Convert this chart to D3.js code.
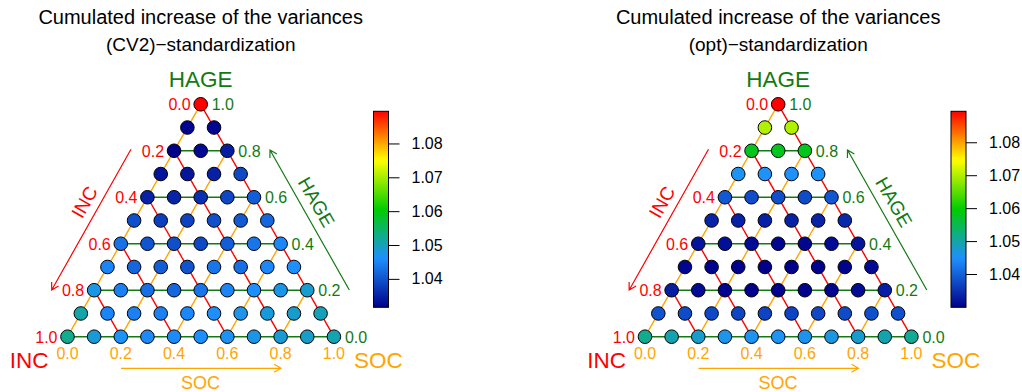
<!DOCTYPE html>
<html>
<head>
<meta charset="utf-8">
<script src="https://cdn.jsdelivr.net/npm/d3@7"></script>
<style>
  html, body { margin: 0; padding: 0; background: #fff; }
  svg { display: block; font-family: "Liberation Sans", Arial, Helvetica, sans-serif; }
</style>
</head>
<body>
<svg id="chart" width="1022" height="392"></svg>
<script>
// Ternary grid: rows run from HAGE = 1.0 (top) to HAGE = 0.0 (bottom);
// inside a row, SOC grows from 0 to (1 - HAGE) left to right, INC = 1 - SOC - HAGE.
const hageSteps = d3.range(10, -1, -1).map(d => d / 10);

// Cumulated increase of the variances, (CV2)-standardization
const valuesCV2 = [
  [1.0895],
  [1.0320, 1.0322],
  [1.0316, 1.0325, 1.0345],
  [1.0335, 1.0338, 1.0348, 1.0388],
  [1.0350, 1.0352, 1.0362, 1.0386, 1.0410],
  [1.0395, 1.0378, 1.0382, 1.0396, 1.0405, 1.0420],
  [1.0430, 1.0400, 1.0395, 1.0388, 1.0410, 1.0435, 1.0452],
  [1.0450, 1.0418, 1.0410, 1.0400, 1.0435, 1.0428, 1.0452, 1.0460],
  [1.0475, 1.0445, 1.0428, 1.0420, 1.0435, 1.0450, 1.0460, 1.0475, 1.0488],
  [1.0510, 1.0450, 1.0445, 1.0445, 1.0452, 1.0460, 1.0472, 1.0482, 1.0490, 1.0500],
  [1.0525, 1.0485, 1.0465, 1.0455, 1.0455, 1.0460, 1.0468, 1.0475, 1.0485, 1.0492, 1.0505]
];

// Cumulated increase of the variances, (opt)-standardization
const valuesOpt = [
  [1.0894],
  [1.0700, 1.0700],
  [1.0580, 1.0578, 1.0580],
  [1.0455, 1.0452, 1.0450, 1.0452],
  [1.0390, 1.0378, 1.0380, 1.0378, 1.0388],
  [1.0335, 1.0333, 1.0333, 1.0333, 1.0335, 1.0340],
  [1.0320, 1.0315, 1.0310, 1.0305, 1.0305, 1.0310, 1.0320],
  [1.0305, 1.0302, 1.0300, 1.0299, 1.0299, 1.0300, 1.0302, 1.0308],
  [1.0330, 1.0310, 1.0305, 1.0300, 1.0300, 1.0302, 1.0305, 1.0310, 1.0330],
  [1.0385, 1.0378, 1.0372, 1.0370, 1.0368, 1.0368, 1.0372, 1.0376, 1.0380, 1.0382],
  [1.0513, 1.0495, 1.0478, 1.0460, 1.0455, 1.0455, 1.0458, 1.0465, 1.0478, 1.0495, 1.0510]
];

const axisTicks = [0, 0.2, 0.4, 0.6, 0.8, 1.0];
const gridLevels = [0, 0.2, 0.4, 0.6, 0.8];
const colorTicks = [1.04, 1.05, 1.06, 1.07, 1.08];
const paletteColors = ["#00008B", "#1E90FF", "#00CD00", "#FFFF00", "#FF0000"];

const panels = [
  { title: ["Cumulated increase of the variances", "(CV2)\u2212standardization"], values: valuesCV2, dx: 0 },
  { title: ["Cumulated increase of the variances", "(opt)\u2212standardization"], values: valuesOpt, dx: 577.5 }
];

const RED = "#FF0000", ORANGE = "#FFA500", GREEN = "#137a13";
const svg = d3.select("#chart");
const defs = svg.append("defs");

panels.forEach((p, pi) => {
  const g = svg.append("g").attr("transform", `translate(${p.dx},0)`);

  // triangle frame: bottom-left (INC = 1), bottom-right (SOC = 1), apex (HAGE = 1)
  const x = d3.scaleLinear().domain([0, 1]).range([67.5, 333.9]);   // SOC + HAGE/2
  const y = d3.scaleLinear().domain([0, 1]).range([336.7, 104.3]);  // HAGE
  const px = (soc, hage) => x(soc + hage / 2);
  const py = hage => y(hage);

  // flatten rows into points
  const pts = [];
  p.values.forEach((row, i) => {
    const hage = hageSteps[i];
    row.forEach((v, j) => {
      const soc = j / 10;
      pts.push({ soc, hage, inc: 1 - soc - hage, v });
    });
  });

  const ext = d3.extent(pts, d => d.v);
  const color = d3.scaleLinear()
    .domain(paletteColors.map((c, k) => ext[0] + k * (ext[1] - ext[0]) / (paletteColors.length - 1)))
    .range(paletteColors)
    .interpolate(d3.interpolateRgb);

  // title
  g.append("text").attr("x", 200.7).attr("y", 24).attr("text-anchor", "middle")
    .attr("font-size", 20).attr("fill", "#000").text(p.title[0]);
  g.append("text").attr("x", 200.7).attr("y", 51).attr("text-anchor", "middle")
    .attr("font-size", 19).attr("fill", "#000").text(p.title[1]);

  // grid lines
  const grid = g.append("g").attr("stroke-width", 1.4).attr("fill", "none");
  gridLevels.forEach(c => {
    // SOC = c (orange), from HAGE = 0 up to INC = 0
    grid.append("line").attr("stroke", ORANGE)
      .attr("x1", px(c, 0)).attr("y1", py(0)).attr("x2", px(c, 1 - c)).attr("y2", py(1 - c));
    // INC = c (red), from HAGE = 0 up to SOC = 0
    grid.append("line").attr("stroke", RED)
      .attr("x1", px(1 - c, 0)).attr("y1", py(0)).attr("x2", px(0, 1 - c)).attr("y2", py(1 - c));
    // HAGE = c (green), horizontal
    grid.append("line").attr("stroke", GREEN)
      .attr("x1", px(0, c)).attr("y1", py(c)).attr("x2", px(1 - c, c)).attr("y2", py(c));
  });

  // points
  g.append("g").selectAll("circle").data(pts).join("circle")
    .attr("cx", d => px(d.soc, d.hage))
    .attr("cy", d => py(d.hage))
    .attr("r", 6.8)
    .attr("fill", d => color(d.v))
    .attr("stroke", "#000")
    .attr("stroke-width", 1);

  // tick labels
  const tl = g.append("g").attr("font-size", 16);
  axisTicks.forEach(t => {
    // INC on the left edge (SOC = 0, HAGE = 1 - INC)
    tl.append("text").attr("fill", RED).attr("text-anchor", "end")
      .attr("x", px(0, 1 - t) - 10).attr("y", py(1 - t) + 5.8).text(t.toFixed(1));
    // HAGE on the right edge (INC = 0)
    tl.append("text").attr("fill", GREEN).attr("text-anchor", "start")
      .attr("x", px(1 - t, t) + 11).attr("y", py(t) + 5.8).text(t.toFixed(1));
    // SOC along the bottom edge
    tl.append("text").attr("fill", ORANGE).attr("text-anchor", "middle")
      .attr("x", px(t, 0)).attr("y", py(0) + 22.5).text(t.toFixed(1));
  });

  // corner labels
  g.append("text").attr("x", px(0, 1)).attr("y", 87).attr("text-anchor", "middle")
    .attr("font-size", 22.5).attr("fill", GREEN).text("HAGE");
  g.append("text").attr("x", px(0, 0) - 19).attr("y", 368).attr("text-anchor", "end")
    .attr("font-size", 22.5).attr("fill", RED).text("INC");
  g.append("text").attr("x", px(1, 0) + 20).attr("y", 368).attr("text-anchor", "start")
    .attr("font-size", 22.5).attr("fill", ORANGE).text("SOC");

  // direction arrows with open heads
  function arrow(x1, y1, x2, y2, col) {
    const a = Math.atan2(y2 - y1, x2 - x1), L = 8, w = Math.PI / 6;
    const path = d3.path();
    path.moveTo(x1, y1); path.lineTo(x2, y2);
    path.moveTo(x2 - L * Math.cos(a - w), y2 - L * Math.sin(a - w));
    path.lineTo(x2, y2);
    path.lineTo(x2 - L * Math.cos(a + w), y2 - L * Math.sin(a + w));
    g.append("path").attr("d", path.toString()).attr("stroke", col)
      .attr("stroke-width", 1.2).attr("fill", "none");
  }
  arrow(131, 149.3, 51.7, 290, RED);
  arrow(349.3, 290, 270, 150, GREEN);
  arrow(121, 368.3, 281, 368.3, ORANGE);

  g.append("text").attr("transform", "translate(84.5,202) rotate(-60)")
    .attr("text-anchor", "middle").attr("dy", "0.35em")
    .attr("font-size", 19).attr("fill", RED).text("INC");
  g.append("text").attr("transform", "translate(316.5,202) rotate(60)")
    .attr("text-anchor", "middle").attr("dy", "0.35em")
    .attr("font-size", 19).attr("fill", GREEN).text("HAGE");
  g.append("text").attr("x", 200.5).attr("y", 388.5)
    .attr("text-anchor", "middle")
    .attr("font-size", 18).attr("fill", ORANGE).text("SOC");

  // color bar
  const cb = d3.scaleLinear().domain(ext).range([307.3, 111.3]);
  const gid = "cbar" + pi;
  const grad = defs.append("linearGradient").attr("id", gid)
    .attr("x1", 0).attr("y1", 1).attr("x2", 0).attr("y2", 0);
  d3.range(0, 1.0001, 0.02).forEach(t => {
    grad.append("stop").attr("offset", t)
      .attr("stop-color", color(ext[0] + t * (ext[1] - ext[0])));
  });
  const bx = 373.5, bw = 15;
  g.append("rect").attr("x", bx).attr("y", cb(ext[1])).attr("width", bw)
    .attr("height", cb(ext[0]) - cb(ext[1]))
    .attr("fill", `url(#${gid})`).attr("stroke", "#000").attr("stroke-width", 1);
  const axis = d3.axisRight(cb).tickValues(colorTicks).tickSize(11).tickPadding(12)
    .tickFormat(d3.format(".2f"));
  const ag = g.append("g").attr("transform", `translate(${bx + bw},0)`).call(axis);
  ag.select(".domain").remove();
  ag.selectAll(".tick line").attr("stroke", "#000");
  ag.selectAll(".tick text").attr("font-size", 16).attr("fill", "#000")
    .attr("font-family", "Liberation Sans, Arial, sans-serif");
});
</script>
</body>
</html>
